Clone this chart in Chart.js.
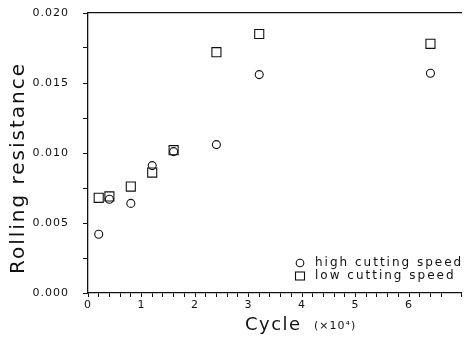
<!DOCTYPE html>
<html>
<head>
<meta charset="utf-8">
<script src="https://cdn.jsdelivr.net/npm/chart.js@4.4.0/dist/chart.umd.min.js"></script>
<style>
  html, body { margin: 0; padding: 0; background: #fff; }
  #wrap { width: 469px; height: 357px; }
</style>
</head>
<body>
<div id="wrap"><canvas id="c" width="469" height="357"></canvas></div>
<script>
// ---- data ----
const cycles = [0.2, 0.4, 0.8, 1.2, 1.6, 2.4, 3.2, 6.4];          // ×10^4
const highSpeed = [0.0042, 0.0067, 0.0064, 0.0091, 0.0101, 0.0106, 0.0156, 0.0157];
const lowSpeed  = [0.0068, 0.0069, 0.0076, 0.0086, 0.0102, 0.0172, 0.0185, 0.0178];
const seriesNames = ['high cutting speed', 'low cutting speed'];
const yTickLabels = ['0.000', '0.005', '0.010', '0.015', '0.020'];
const xTickLabels = ['0', '1', '2', '3', '4', '5', '6'];
const xTitle = 'Cycle';
const xUnit = '(×10⁴)';
const yTitle = 'Rolling resistance';

const FONT = '"DejaVu Sans", "Liberation Sans", sans-serif';

const toPts = (xs, ys) => xs.map((x, i) => ({ x: x, y: ys[i] }));

const spacing = {
  id: 'spacing',
  beforeDraw(chart) {
    try { chart.ctx.letterSpacing = '1px'; } catch (e) {}
  }
};

const overlay = {
  id: 'overlay',
  afterDraw(chart) {
    const ctx = chart.ctx;
    ctx.save();
    ctx.fillStyle = '#111';
    ctx.strokeStyle = '#111';
    // y title
    ctx.save();
    ctx.translate(19, 168);
    ctx.rotate(-Math.PI / 2);
    ctx.font = '20px ' + FONT;
    try { ctx.letterSpacing = '2px'; } catch (e) {}
    ctx.textAlign = 'center';
    ctx.textBaseline = 'middle';
    ctx.fillText(yTitle, 0, 0);
    ctx.restore();
    // x title
    ctx.font = '18px ' + FONT;
    try { ctx.letterSpacing = '1.5px'; } catch (e) {}
    ctx.textAlign = 'left';
    ctx.textBaseline = 'alphabetic';
    ctx.fillText(xTitle, 245, 330);
    ctx.font = '11px ' + FONT;
    try { ctx.letterSpacing = '1px'; } catch (e) {}
    ctx.fillText(xUnit, 314, 329);
    // legend
    const lx = 300;
    const rows = [263, 276];
    ctx.lineWidth = 1.1;
    ctx.beginPath();
    ctx.arc(lx, rows[0], 3.8, 0, Math.PI * 2);
    ctx.stroke();
    ctx.strokeRect(lx - 4.5, rows[1] - 4, 9, 8);
    ctx.font = '12px ' + FONT;
    try { ctx.letterSpacing = '2px'; } catch (e) {}
    ctx.textBaseline = 'middle';
    ctx.fillText(seriesNames[0], lx + 15, rows[0]);
    ctx.fillText(seriesNames[1], lx + 15, rows[1]);
    ctx.restore();
  }
};

new Chart(document.getElementById('c'), {
  type: 'scatter',
  data: {
    datasets: [
      {
        label: seriesNames[0],
        data: toPts(cycles, highSpeed),
        pointStyle: 'circle',
        pointRadius: 4,
        pointHoverRadius: 4,
        borderColor: '#111',
        backgroundColor: 'rgba(0,0,0,0)',
        borderWidth: 1.1
      },
      {
        label: seriesNames[1],
        data: toPts(cycles, lowSpeed),
        pointStyle: 'rect',
        pointRadius: 6.4,
        pointHoverRadius: 6.4,
        borderColor: '#111',
        backgroundColor: 'rgba(0,0,0,0)',
        borderWidth: 1.1
      }
    ]
  },
  options: {
    responsive: false,
    animation: false,
    devicePixelRatio: 1,
    layout: { padding: 0 },
    plugins: {
      legend: { display: false },
      tooltip: { enabled: false }
    },
    scales: {
      x: {
        type: 'linear',
        position: 'bottom',
        min: 0,
        max: 6.98,
        afterFit(s) { s.height = 64; },
        border: { display: true, color: '#111', width: 1.3 },
        grid: { display: true, drawOnChartArea: false, color: '#111', tickLength: 4, lineWidth: 1 },
        ticks: {
          stepSize: 0.2,
          autoSkip: false,
          maxRotation: 0,
          color: '#111',
          padding: 2,
          font: { family: FONT, size: 11 },
          callback(v) {
            const r = Math.round(v);
            if (Math.abs(v - r) < 1e-6 && xTickLabels.includes(String(r))) return String(r);
            return '';
          }
        }
      },
      xTop: {
        type: 'linear',
        position: 'top',
        min: 0,
        max: 6.98,
        afterFit(s) { s.height = 13; },
        border: { display: true, color: '#111', width: 1.2 },
        grid: { display: false },
        ticks: { display: false }
      },
      y: {
        type: 'linear',
        min: 0,
        max: 0.020,
        afterFit(s) { s.width = 88; s.paddingTop = 0; s.paddingBottom = 0; },
        border: { display: true, color: '#111', width: 1.3 },
        grid: { display: true, drawOnChartArea: false, color: '#111', tickLength: 5, lineWidth: 1 },
        ticks: {
          stepSize: 0.0025,
          autoSkip: false,
          color: '#111',
          padding: 14,
          font: { family: FONT, size: 11 },
          callback(v) {
            const k = v / 0.005;
            const r = Math.round(k);
            if (Math.abs(k - r) < 1e-6 && yTickLabels[r] !== undefined) return yTickLabels[r];
            return '';
          }
        }
      }
    }
  },
  plugins: [spacing, overlay]
});
</script>
</body>
</html>
